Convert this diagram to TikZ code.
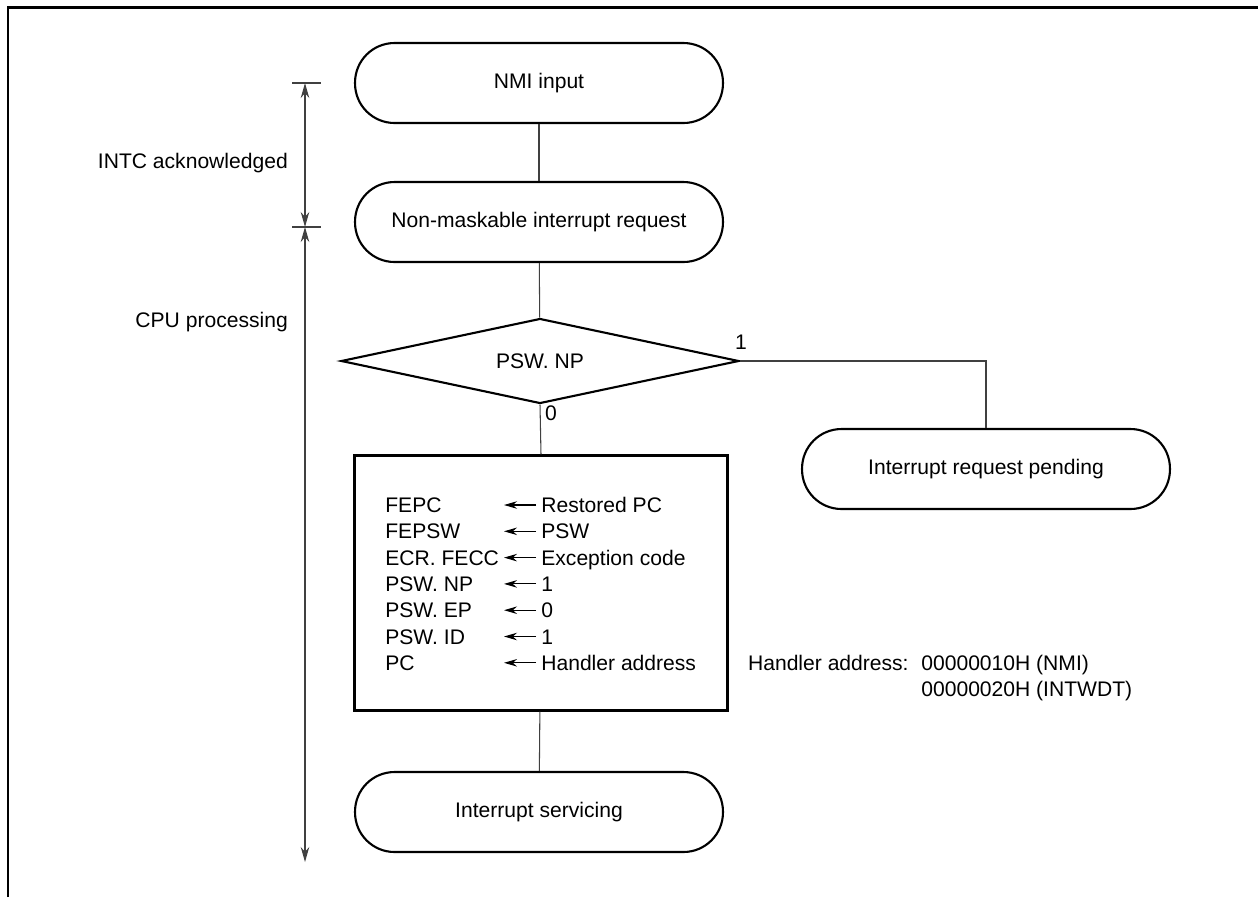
\documentclass[tikz,border=0pt]{standalone}
\usepackage{fontspec}
\setmainfont{Liberation Sans}
\usetikzlibrary{shapes.geometric,arrows.meta}

\begin{document}
\begin{tikzpicture}[x=0.02cm,y=-0.02cm,
  every node/.style={font=\fontsize{12}{15}\selectfont},
  term/.style={draw,line width=1.2pt,rounded corners=0.79cm,minimum width=7.36cm,minimum height=1.6cm},
  line/.style={draw=black!75,line width=0.6pt},
  dim/.style={draw=black!75,line width=0.6pt,{Stealth[length=0.3cm,width=0.17cm]}-{Stealth[length=0.3cm,width=0.17cm]}},
  sarr/.style={line width=0.6pt,-{Stealth[length=0.26cm,width=0.15cm]}}]
  \useasboundingbox (0,0) rectangle (1258,897);
  \draw[line width=1.7pt] (8,897) -- (8,7) -- (1258,7);
  % flow
  \node[term] (nmi) at (539,83) {NMI input};
  \node[term] (req) at (539,222) {Non-maskable interrupt request};
  \node[draw,line width=1.2pt,diamond,aspect=4.85,inner sep=0,minimum width=7.96cm,minimum height=1.7cm] (np) at (540,361) {PSW. NP};
  \node[draw,line width=1.2pt,minimum width=7.46cm,minimum height=5.1cm] (save) at (541,583) {};
  \node[term] (serv) at (539,812) {Interrupt servicing};
  \node[term] (pend) at (986,469) {Interrupt request pending};
  \draw[line] (nmi) -- (req);
  \draw[line] (req) -- (np);
  \draw[line] (np.south) -- (save.north);
  \draw[line] (save) -- (serv);
  \draw[line] (np.east) -| (pend.north);
  \node (one) at (741,342) {1};
  \node (zero) at (551,413) {0};
  % box contents
  \foreach \i/\reg/\val in {1/FEPC/Restored PC,2/FEPSW/PSW,3/ECR. FECC/Exception code,
      4/PSW. NP/1,5/PSW. EP/0,6/PSW. ID/1,7/PC/Handler address}{
    \node[anchor=base west,inner sep=0] (l\i) at (385,{512.5+(\i-1)*26.3}) {\reg};
    \node[anchor=base west,inner sep=0] (r\i) at (541,{512.5+(\i-1)*26.3}) {\val};
    \draw[sarr] ([xshift=-0.1cm,yshift=0.15cm]r\i.base west) -- ++(-0.64cm,0);
  }
  \node[anchor=base east,inner sep=0] (hdl) at (909,670.5) {Handler address:};
  \node[anchor=base west,inner sep=0] (nmiaddr) at (921,670.5) {00000010H (NMI)};
  \node[anchor=base west,inner sep=0] (wdtaddr) at (921,696.8) {00000020H (INTWDT)};
  % left dimension
  \coordinate (d1) at (305,83);
  \coordinate (d2) at (305,227);
  \coordinate (d3) at (305,862);
  \draw[line] (292,83) -- (321,83);
  \draw[line] (292,227) -- (321,227);
  \draw[dim] (d1) -- (d2);
  \draw[dim] (d2) -- (d3);
  \node[anchor=east] (intc) at (294,163) {INTC acknowledged};
  \node[anchor=east] (cpu) at (294,322) {CPU processing};
\end{tikzpicture}
\end{document}
